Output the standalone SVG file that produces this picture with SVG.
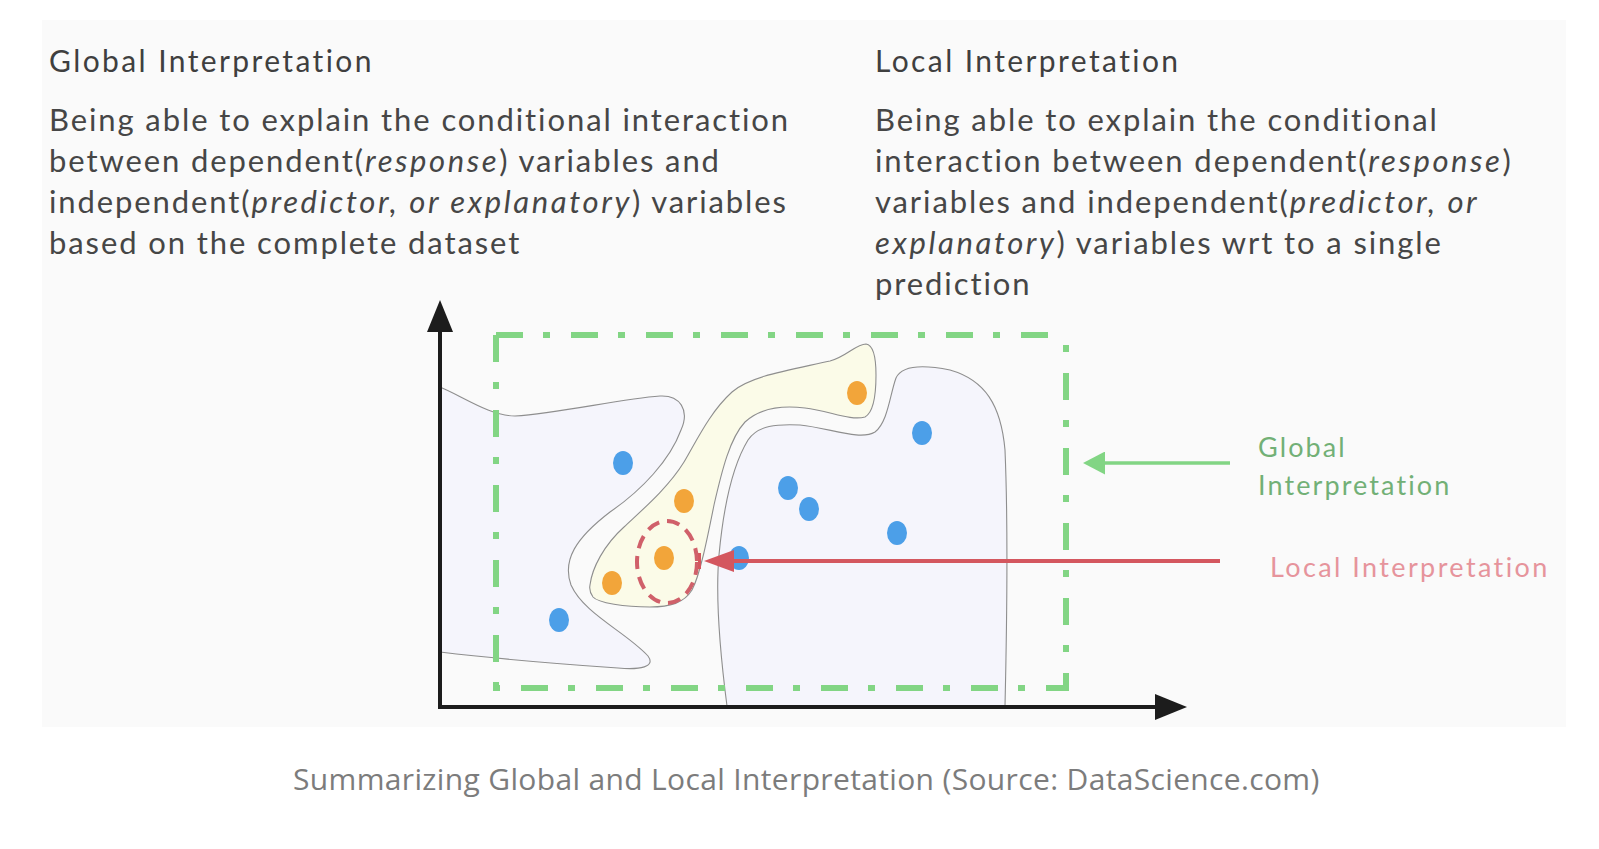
<svg xmlns="http://www.w3.org/2000/svg" width="1599" height="849" viewBox="0 0 1599 849">
<defs>
<style>
.title{font-family:Lato,"Liberation Sans",sans-serif;font-size:30px;fill:#3f3f3f;letter-spacing:2.4px}
.body{font-family:Lato,"Liberation Sans",sans-serif;font-size:31px;fill:#464646;letter-spacing:1.9px}
.it{font-style:italic;letter-spacing:2.6px}
.blob{fill:#f5f5fc;stroke:#8e8e8e;stroke-width:1.1}
.hl{fill:#fbfbe8;stroke:#8e8e8e;stroke-width:1.1}
.frame{stroke:#82d584;stroke-width:6;fill:none;stroke-dasharray:27 20 7 21}
.blue{fill:#4c9fe8}
.orange{fill:#f2a53a}
.axis{stroke:#1c1c1c;stroke-width:4;fill:none}
.lbl{font-family:Lato,"Liberation Sans",sans-serif;font-size:27px}
.cap{font-family:"Open Sans","Noto Sans",sans-serif;font-size:30px;fill:#7c7c7c;letter-spacing:0.35px}
</style>
<marker id="axisHead" viewBox="0 0 32 26" refX="22" refY="13" markerWidth="32" markerHeight="26" markerUnits="userSpaceOnUse" orient="auto"><path d="M0,0 L32,13 L0,26 Z" fill="#1c1c1c"/></marker>
<marker id="greenHead" viewBox="0 0 22 23" refX="14" refY="11.5" markerWidth="22" markerHeight="23" markerUnits="userSpaceOnUse" orient="auto"><path d="M0,0 L22,11.5 L0,23 Z" fill="#82d584"/></marker>
<marker id="redHead" viewBox="0 0 37 22" refX="20" refY="11" markerWidth="37" markerHeight="22" markerUnits="userSpaceOnUse" orient="auto"><path d="M0,0 L30,11 L0,22 Z" fill="#d4575f"/><line x1="34.5" y1="3" x2="34.5" y2="19" stroke="#d4575f" stroke-width="3"/></marker>
</defs>
<rect width="1599" height="849" fill="#ffffff"/>
<rect x="42" y="20" width="1524" height="707" fill="#fafafa"/>

<g id="global-text">
<text class="title" x="49" y="72">Global Interpretation</text>
<text class="body" x="49" y="131">Being able to explain the conditional interaction</text>
<text class="body" x="49" y="172">between dependent(<tspan class="it">response</tspan>) variables and</text>
<text class="body" x="49" y="213">independent(<tspan class="it">predictor, or explanatory</tspan>) variables</text>
<text class="body" x="49" y="254">based on the complete dataset</text>
</g>

<g id="local-text">
<text class="title" x="875" y="72">Local Interpretation</text>
<text class="body" x="875" y="131">Being able to explain the conditional</text>
<text class="body" x="875" y="172">interaction between dependent(<tspan class="it">response</tspan>)</text>
<text class="body" x="875" y="213">variables and independent(<tspan class="it">predictor, or</tspan></text>
<text class="body" x="875" y="254"><tspan class="it">explanatory</tspan>) variables wrt to a single</text>
<text class="body" x="875" y="295">prediction</text>
</g>

<g id="regions">
<path id="left-region" class="blob" d="M440,387 C462,396 490,416 515,416 C560,413 620,399 660,396 C680,395 690,410 681,430 C670,460 642,490 610,512 C576,538 562,560 571,585 C584,614 626,632 648,656 C656,667 640,670 618,668 C560,664 490,658 440,652 Z"/>
<path id="right-region" class="blob" d="M727,706 C721,660 715,600 719,555 C723,512 731,468 748,440 C758,425 777,424 800,425 C830,428 860,441 875,432 C888,422 890,394 896,378 C902,365 925,365 950,370 C985,380 1001,405 1005,450 C1008,520 1007,620 1005,706"/>
<path id="highlight-region" class="hl" d="M590,585 C592,568 604,545 624,527 C642,510 668,488 684,462 C697,440 710,412 732,392 C750,376 790,370 830,361 C846,357 856,344 866,344 C873,345 876,355 876,375 C876,395 874,412 865,417 C850,421 830,411 805,408 C780,405 760,408 745,422 C730,438 722,470 714,505 C707,540 700,575 692,590 C684,603 670,607 650,607 C625,607 598,603 593,597 C590,593 589,590 590,585 Z"/>
</g>

<g id="frame">
<line class="frame" x1="496" y1="335" x2="1066" y2="335"/>
<line class="frame" x1="496" y1="335" x2="496" y2="691"/>
<line class="frame" x1="1066" y1="335" x2="1066" y2="691" stroke-dashoffset="37"/>
<line class="frame" x1="493" y1="688" x2="1069" y2="688" stroke-dashoffset="47"/>
</g>

<g id="points">
<ellipse class="blue" cx="623" cy="463" rx="10" ry="12"/>
<ellipse class="blue" cx="559" cy="620" rx="10" ry="12"/>
<ellipse class="blue" cx="739" cy="558" rx="10" ry="12"/>
<ellipse class="blue" cx="788" cy="488" rx="10" ry="12"/>
<ellipse class="blue" cx="809" cy="509" rx="10" ry="12"/>
<ellipse class="blue" cx="897" cy="533" rx="10" ry="12"/>
<ellipse class="blue" cx="922" cy="433" rx="10" ry="12"/>
<ellipse class="orange" cx="857" cy="393" rx="10" ry="12"/>
<ellipse class="orange" cx="684" cy="501" rx="10" ry="12"/>
<ellipse class="orange" cx="664" cy="558" rx="10" ry="12"/>
<ellipse class="orange" cx="612" cy="583" rx="10" ry="12"/>
</g>

<g id="local-focus">
<ellipse cx="667" cy="562" rx="30" ry="41" fill="none" stroke="#d0606a" stroke-width="4" stroke-dasharray="13 8"/>
</g>

<g id="axes">
<line class="axis" x1="440" y1="709" x2="440" y2="310" marker-end="url(#axisHead)"/>
<line class="axis" x1="438" y1="707" x2="1177" y2="707" marker-end="url(#axisHead)"/>
</g>

<g id="connectors">
<line x1="1230" y1="463" x2="1091" y2="463" stroke="#82d584" stroke-width="3.5" marker-end="url(#greenHead)"/>
<line x1="1220" y1="561" x2="714" y2="561" stroke="#d4575f" stroke-width="4" marker-end="url(#redHead)"/>
</g>

<g id="label-global">
<text class="lbl" x="1258" y="457" fill="#72b076" letter-spacing="2.1">Global</text>
<text class="lbl" x="1258" y="495" fill="#72b076" letter-spacing="2.1">Interpretation</text>
</g>
<g id="label-local">
<text class="lbl" x="1270" y="577" fill="#e6949c" letter-spacing="2.4">Local Interpretation</text>
</g>

<text class="cap" x="293" y="790">Summarizing Global and Local Interpretation (Source: DataScience.com)</text>
</svg>
